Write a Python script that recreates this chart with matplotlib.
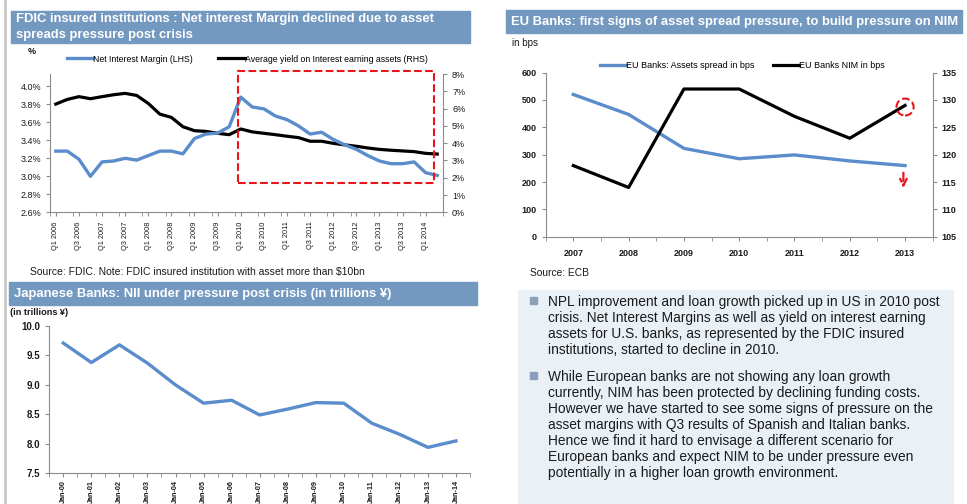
import numpy as np
import matplotlib.pyplot as plt
from matplotlib.patches import Rectangle, Ellipse
from matplotlib.lines import Line2D

plt.rcParams['font.family'] = ['Liberation Sans', 'DejaVu Sans']

W, H = 967, 504

# ---- datos FDIC (trimestral, Q1 2006 - Q2 2014)
trimestres = ["Q%d %d" % (q, a) for a in range(2006, 2015) for q in range(1, 5)][:34]
nim_fdic = [3.28, 3.28, 3.19, 3.00, 3.16, 3.17, 3.20, 3.18, 3.23, 3.28, 3.28, 3.25,
            3.42, 3.47, 3.48, 3.55, 3.88, 3.77, 3.75, 3.67, 3.63, 3.56, 3.47, 3.49,
            3.41, 3.35, 3.30, 3.23, 3.17, 3.14, 3.14, 3.16, 3.04, 3.01]
yield_fdic = [6.26, 6.53, 6.69, 6.57, 6.69, 6.80, 6.88, 6.76, 6.30, 5.68, 5.49, 4.95,
              4.72, 4.68, 4.57, 4.49, 4.82, 4.65, 4.57, 4.49, 4.40, 4.32, 4.11, 4.11,
              3.99, 3.90, 3.82, 3.72, 3.64, 3.59, 3.55, 3.51, 3.41, 3.37]

# ---- datos EU (anual)
anios_eu = ["2007", "2008", "2009", "2010", "2011", "2012", "2013"]
spread_eu = [520, 447, 323, 285, 299, 277, 260]
nim_eu = [118, 114, 132, 132, 127, 123, 129]

# ---- datos Japon (anual)
anios_jp = ["Jan-00", "Jan-01", "Jan-02", "Jan-03", "Jan-04", "Jan-05", "Jan-06", "Jan-07",
            "Jan-08", "Jan-09", "Jan-10", "Jan-11", "Jan-12", "Jan-13", "Jan-14"]
nii_jp = [9.71, 9.38, 9.68, 9.37, 9.00, 8.69, 8.74, 8.49, 8.59, 8.70, 8.69, 8.35, 8.16, 7.94, 8.05]

azul = '#5B8CCB'
barra = '#7399C0'
gris = '#8C8C8C'
texto = '#1A1A1A'


def fx(x):
    return x / W


def fy(y):
    return 1 - y / H


def caja_titulo(x0, y0, x1, y1, lineas, fs=9.4):
    fig.add_artist(Rectangle((fx(x0), fy(y1)), fx(x1 - x0), (y1 - y0) / H,
                             transform=fig.transFigure, color=barra, zorder=0))
    n = len(lineas)
    paso = (y1 - y0) / n
    for i, l in enumerate(lineas):
        fig.text(fx(x0 + 5), fy(y0 + paso * (i + 0.5)), l, color='white', fontsize=fs,
                 fontweight='bold', va='center', ha='left')


def estilo(ax):
    for s in ['top', 'right']:
        ax.spines[s].set_visible(False)
    for s in ['left', 'bottom']:
        ax.spines[s].set_color(gris)
    ax.tick_params(colors=gris, labelcolor=texto, length=3, width=0.8)


fig = plt.figure(figsize=(W / 100, H / 100), dpi=100)

# linea gris del margen izquierdo
fig.add_artist(Line2D([fx(5), fx(5)], [0, 1], transform=fig.transFigure, color='#C8C8C8', lw=2))

# ================= FDIC =================
caja_titulo(11, 11, 470, 43, ["FDIC insured institutions : Net interest Margin declined due to asset",
                              "spreads pressure post crisis"])
fig.text(fx(28), fy(52), "%", fontsize=6.5, fontweight='bold', va='center', color=texto)

ax1 = fig.add_axes([fx(50), fy(212.3), fx(393), 138.3 / H])
ax1r = ax1.twinx()
x = np.arange(len(nim_fdic))
l1, = ax1.plot(x, nim_fdic, color=azul, lw=2.4, zorder=3)
l2, = ax1r.plot(x, yield_fdic, color='black', lw=2.3)
ax1.set_xlim(-0.5, len(x) - 0.5)
ax1.set_ylim(2.6, 4.137)
ax1.set_yticks(np.arange(2.6, 4.01, 0.2))
ax1.set_yticklabels(["%.1f%%" % v for v in np.arange(2.6, 4.01, 0.2)], fontsize=6.5)
ax1r.set_ylim(0, 8)
ax1r.set_yticks(range(0, 9))
ax1r.set_yticklabels(["%d%%" % v for v in range(0, 9)], fontsize=6.5)
ax1.set_xticks(x[::2])
ax1.set_xticklabels(trimestres[::2], rotation=90, fontsize=5.3)
ax1.set_xticks(np.arange(-0.5, len(x), 2), minor=True)
ax1.tick_params(axis='x', which='major', length=0)
ax1.tick_params(axis='x', which='minor', length=3, color=gris)
estilo(ax1)
ax1r.spines['top'].set_visible(False)
ax1r.spines['left'].set_visible(False)
ax1r.spines['bottom'].set_visible(False)
ax1r.spines['right'].set_color(gris)
ax1r.tick_params(colors=gris, labelcolor=texto, length=3, width=0.8)
ax1.set_zorder(ax1r.get_zorder() + 1)
ax1.patch.set_visible(False)

# recuadro rojo punteado desde Q1 2010
ax1.add_patch(Rectangle((15.76, 2.926), 32.7 - 15.76, 4.17 - 2.926, fill=False,
                        ec='#E8161B', ls='--', lw=1.5, clip_on=False, zorder=4))

fig.legend([l1, l2], ["Net Interest Margin (LHS)", "Average yield on Interest earning assets (RHS)"],
           loc='center left', bbox_to_anchor=(fx(67), fy(59)), ncol=2, frameon=False,
           fontsize=6.3, handlelength=3.0, handletextpad=0.0, columnspacing=2.9,
           borderpad=0, borderaxespad=0)

fig.text(fx(30), fy(272.5), "Source: FDIC. Note: FDIC insured institution with asset more than $10bn",
         fontsize=7.5, va='center', color=texto)

# ================= EU =================
caja_titulo(506, 10, 962, 33, ["EU Banks: first signs of asset spread pressure, to build pressure on NIM"])
fig.text(fx(512), fy(43), "in bps", fontsize=7, va='center', color=texto)

ax2 = fig.add_axes([fx(545.7), fy(236.7), fx(387), 164.1 / H])
ax2r = ax2.twinx()
xe = np.arange(len(anios_eu))
l3, = ax2.plot(xe, spread_eu, color=azul, lw=2.4, zorder=3)
l4, = ax2r.plot(xe, nim_eu, color='black', lw=2.3)
ax2.set_xlim(-0.5, len(xe) - 0.5)
ax2.set_ylim(0, 600)
ax2.set_yticks(range(0, 601, 100))
ax2r.set_ylim(105, 135)
ax2r.set_yticks(range(105, 136, 5))
ax2.set_xticks(xe)
ax2.set_xticklabels(anios_eu)
ax2.set_xticks(np.arange(-0.5, len(xe), 1), minor=True)
ax2.tick_params(axis='x', which='major', length=0, pad=6)
ax2.tick_params(axis='x', which='minor', length=3, color=gris)
estilo(ax2)
for t in ax2.get_xticklabels() + ax2.get_yticklabels() + ax2r.get_yticklabels():
    t.set_fontsize(6.5)
    t.set_fontweight('bold')
ax2r.spines['top'].set_visible(False)
ax2r.spines['left'].set_visible(False)
ax2r.spines['bottom'].set_visible(False)
ax2r.spines['right'].set_color(gris)
ax2r.tick_params(colors=gris, labelcolor=texto, length=3, width=0.8)

# circulo rojo en el ultimo NIM y flecha hacia abajo en el spread
ax2r.add_patch(Ellipse((xe[-1], nim_eu[-1] - 0.3), 0.31, 3.1, fill=False, ec='#E8161B',
                       ls='--', lw=1.5, clip_on=False, zorder=5))
ax2.annotate('', xy=(xe[-1] - 0.03, 168), xytext=(xe[-1] - 0.03, 244),
             arrowprops=dict(arrowstyle='->', color='#E8161B', ls='--', lw=1.6,
                             mutation_scale=12))

fig.legend([l3, l4], ["EU Banks: Assets spread in bps", "EU Banks NIM in bps"],
           loc='center left', bbox_to_anchor=(fx(600), fy(66)), ncol=2, frameon=False,
           fontsize=6.5, handlelength=2.9, handletextpad=0.0, columnspacing=2.0,
           borderpad=0, borderaxespad=0)

fig.text(fx(530), fy(272.5), "Source: ECB", fontsize=7.4, va='center', color=texto)

# ================= Japon =================
caja_titulo(9, 282, 477, 305, ["Japanese Banks: NII under pressure post crisis (in trillions \u00a5)"])
fig.text(fx(10), fy(312.5), "(in trillions \u00a5)", fontsize=6.6, fontweight='bold', va='center', color=texto)

ax3 = fig.add_axes([fx(49.3), fy(473.3), fx(420.7), 147.3 / H])
xj = np.arange(len(anios_jp))
ax3.plot(xj, nii_jp, color=azul, lw=2.4)
ax3.set_xlim(-0.5, len(xj) - 0.5)
ax3.set_ylim(7.5, 10.0)
ax3.set_yticks(np.arange(7.5, 10.01, 0.5))
ax3.set_yticklabels(["%.1f" % v for v in np.arange(7.5, 10.01, 0.5)], fontsize=7, fontweight='bold')
ax3.set_xticks(xj)
ax3.set_xticklabels(anios_jp, rotation=90, fontsize=5.2, fontweight='bold')
ax3.set_xticks(np.arange(-0.5, len(xj), 1), minor=True)
ax3.tick_params(axis='x', which='major', length=0, pad=2)
ax3.tick_params(axis='x', which='minor', length=3, color=gris)
estilo(ax3)

# ================= texto =================
fig.add_artist(Rectangle((fx(518), 0), fx(953 - 518), (504 - 290) / H,
                         transform=fig.transFigure, color='#E9F0F6', zorder=0))
parrafos = [
    ["NPL improvement and loan growth picked up in US in 2010 post",
     "crisis. Net Interest Margins as well as yield on interest earning",
     "assets for U.S. banks, as represented by the FDIC insured",
     "institutions, started to decline in 2010."],
    ["While European banks are not showing any loan growth",
     "currently, NIM has been protected by declining funding costs.",
     "However we have started to see some signs of pressure on the",
     "asset margins with Q3 results of Spanish and Italian banks.",
     "Hence we find it hard to envisage a different scenario for",
     "European banks and expect NIM to be under pressure even",
     "potentially in a higher loan growth environment."],
]
inicio = [301.7, 376.7]
for p, y0 in zip(parrafos, inicio):
    fig.add_artist(Rectangle((fx(530), fy(y0 + 2)), fx(6.5), 6.5 / H,
                             transform=fig.transFigure, color='#8AA0BA'))
    for i, linea in enumerate(p):
        fig.text(fx(548), fy(y0 + i * 16.1), linea, fontsize=9.9, va='center', color=texto)

plt.savefig("out.png", dpi=100)
